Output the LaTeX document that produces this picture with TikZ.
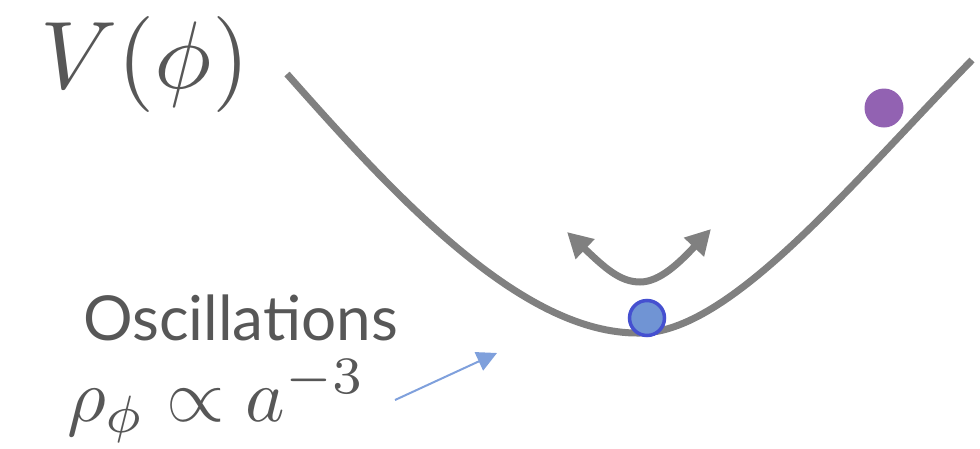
\documentclass[tikz,border=0pt]{standalone}
\usepackage{graphicx}
\usepackage{fontspec}
\setsansfont{Lato}
\usetikzlibrary{arrows.meta}
\definecolor{txtgray}{HTML}{575757}
\definecolor{curvegray}{HTML}{808080}
\definecolor{ballblue}{HTML}{7094D4}
\definecolor{balledge}{HTML}{4550D0}
\definecolor{ballpurple}{HTML}{9262B2}
\definecolor{arrowblue}{HTML}{7FA0DC}
\tikzset{
  potential/.style={draw=curvegray, line width=7pt},
  swing/.style={draw=curvegray, line width=7pt, {Triangle[length=25pt,width=26pt]}-{Triangle[length=25pt,width=26pt]}},
  pointer/.style={draw=arrowblue, line width=2pt, -{Triangle[length=20pt,width=20pt]}},
  label/.style={text=txtgray, inner sep=0pt, anchor=base west},
}
\begin{document}
\begin{tikzpicture}[x=1pt,y=-1pt]
\useasboundingbox (0,0) rectangle (980,448);
% potential curve
\coordinate (c0) at (287,74);
\coordinate (cmin) at (640,333);
\coordinate (c1) at (972,60);
\draw[potential] (c0) .. controls (390,190) and (520,335) .. (cmin) .. controls (730,333) and (850,185) .. (c1);
% oscillation arrow
\coordinate (la) at (567,232);
\coordinate (lb) at (640,282);
\coordinate (ra) at (711,229);
\draw[swing] (la) .. controls (605,268) and (620,282) .. (lb) .. controls (660,282) and (680,262) .. (ra);
% balls
\node[circle, fill=ballblue, draw=balledge, line width=3.5pt, minimum size=35pt, inner sep=0pt] (blue) at (647,318) {};
\node[circle, fill=ballpurple, minimum size=39pt, inner sep=0pt] (purple) at (884,108) {};
% labels
\node[label] (V) at (40,88) {\scalebox{9.6}{$V(\phi)$}};
\node[label, font=\sffamily\fontsize{62}{64}\selectfont] (osc) at (83,340) {Oscillations};
\node[label] (rho) at (67,421) {\scalebox{7.5}{$\rho_\phi\propto a^{-3}$}};
% pointer
\coordinate (p0) at (395,400);
\coordinate (p1) at (497,353);
\draw[pointer] (p0) -- (p1);
\end{tikzpicture}
\end{document}
